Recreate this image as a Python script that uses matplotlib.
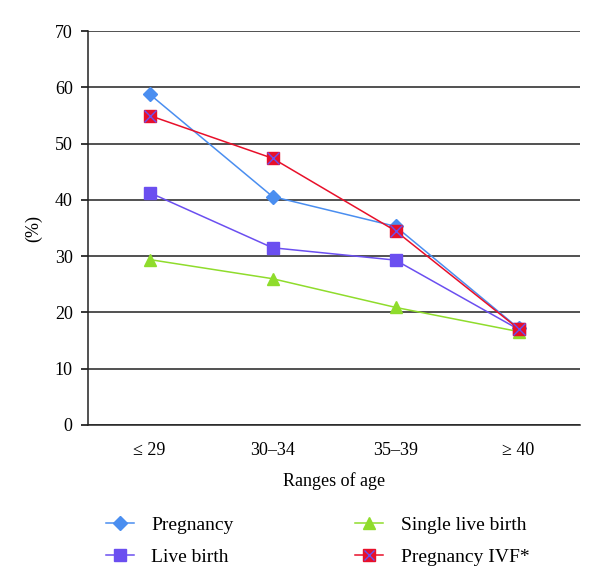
import matplotlib
matplotlib.use("Agg")
import matplotlib.pyplot as plt
from matplotlib.lines import Line2D

plt.rcParams["font.family"] = ["Liberation Serif", "DejaVu Serif"]

age_ranges = ["\u2264 29", "30\u201334", "35\u201339", "\u2265 40"]
pregnancy = [58.8, 40.6, 35.3, 17.2]
live_birth = [41.3, 31.5, 29.3, 17.0]
single_live_birth = [29.4, 26.0, 20.9, 16.6]
pregnancy_ivf = [55.0, 47.4, 34.5, 17.1]

blue = "#4a8ef0"
purple = "#6b4ff0"
green = "#8fdc2c"
red = "#e8102a"

fig = plt.figure(figsize=(6.0, 5.87), dpi=100)
ax = fig.add_axes([0.1467, 0.276, 0.82, 0.671])

x = list(range(len(age_ranges)))

ax.plot(x, pregnancy, color=blue, lw=1.1, marker="D", ms=7.5, mfc=blue, mec=blue, zorder=4)
ax.plot(x, live_birth, color=purple, lw=1.1, marker="s", ms=9, mfc=purple, mec=purple, zorder=4)
ax.plot(x, single_live_birth, color=green, lw=1.1, marker="^", ms=9, mfc=green, mec=green, zorder=4)
ax.plot(x, pregnancy_ivf, color=red, lw=1.1, marker="s", ms=9, mfc=red, mec=red, zorder=5)
ax.plot(x, pregnancy_ivf, ls="none", marker="x", ms=8, mec=purple, mew=1.0, zorder=6)

ax.set_xlim(-0.5, len(age_ranges) - 0.5)
ax.set_ylim(0, 70)
ax.set_yticks(range(0, 71, 10))
ax.set_xticks(x)
ax.set_xticklabels(age_ranges)
ax.yaxis.grid(True, color="#222222", lw=1.1)
ax.set_axisbelow(True)
ax.tick_params(axis="x", length=0, pad=12, labelsize=13)
ax.tick_params(axis="y", length=5, width=1.1, direction="out", labelsize=13, pad=6)
for side in ["top", "right"]:
    ax.spines[side].set_visible(False)
for side in ["left", "bottom"]:
    ax.spines[side].set_color("#222222")
    ax.spines[side].set_linewidth(1.1)

ax.set_xlabel("Ranges of age", fontsize=13, labelpad=10)
ax.set_ylabel("(%)", fontsize=13, labelpad=9)

handles = [
    Line2D([], [], color=blue, lw=1.1, marker="D", ms=7, mfc=blue, mec=blue),
    Line2D([], [], color=purple, lw=1.1, marker="s", ms=8, mfc=purple, mec=purple),
    Line2D([], [], color=green, lw=1.1, marker="^", ms=8, mfc=green, mec=green),
    (Line2D([], [], color=red, lw=1.1, marker="s", ms=8, mfc=red, mec=red),
     Line2D([], [], ls="none", marker="x", ms=7, mec=purple, mew=1.0)),
]
labels = ["Pregnancy", "Live birth", "Single live birth", "Pregnancy IVF*"]
fig.legend(handles, labels, ncol=2, loc="upper left", bbox_to_anchor=(0.163, 0.134),
           frameon=False, fontsize=14, handlelength=1.45, handletextpad=0.9,
           columnspacing=6.25, labelspacing=0.75, borderaxespad=0)

fig.savefig("out.png", dpi=100)
